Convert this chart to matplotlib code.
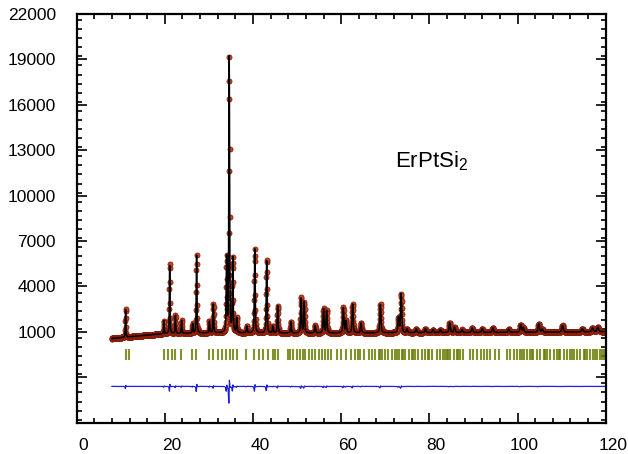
"""
ErPtSi2 - Rietveld refinement plot
(observed, calculated, Bragg positions, difference)
"""

import numpy as np
import matplotlib.pyplot as plt
from matplotlib.ticker import MultipleLocator, FixedLocator, FixedFormatter
import matplotlib.transforms as mtransforms

plt.rcParams['font.family'] = ['Liberation Sans', 'DejaVu Sans']
plt.rcParams['mathtext.fontset'] = 'custom'
plt.rcParams['mathtext.rm'] = 'Liberation Sans'
plt.rcParams['mathtext.default'] = 'regular'

# ====================
# data
# ====================
# reflections: 2theta position and peak height above background
peak_pos = [11.1, 19.8, 21.1, 22.4, 23.8, 26.3, 27.2, 30.1, 31.0, 34.0,
            34.6, 35.4, 36.3, 38.6, 40.4, 43.1, 44.5, 45.6, 48.6, 50.9,
            51.6, 54.1, 56.0, 56.7, 60.5, 61.1, 62.6, 64.5, 68.9, 73.0,
            73.6, 74.9, 77.0, 79.1, 80.8, 82.5, 84.6, 85.7, 87.4, 89.7,
            92.0, 94.4, 98.0, 100.7, 101.3, 104.8, 105.6, 110.2, 114.7, 117.0,
            118.2]
peak_height = [1950, 850, 4700, 1200, 850, 650, 5150, 800, 1900, 4900,
               18200, 4900, 1000, 450, 5550, 4900, 450, 1800, 750, 2350,
               2050, 500, 1600, 1500, 1700, 800, 1900, 650, 1900, 1000,
               2550, 250, 250, 250, 200, 200, 650, 350, 200, 300,
               250, 300, 200, 500, 300, 550, 200, 450, 200, 250,
               300]

# background knots
bg_tth = [8, 10, 15, 20, 30, 50, 80, 110, 120]
bg_val = [560, 620, 760, 880, 930, 920, 950, 980, 1020]

# Bragg reflection markers
bragg_pos = [11.2, 11.8,
             19.8, 20.7, 21.6, 22.4, 23.7, 26.1, 27.1, 30.1, 30.9, 32.0,
             33.0, 33.9, 34.8, 35.5, 36.3, 38.5, 40.3, 41.3, 42.3, 43.3,
             44.6, 45.0, 45.6, 47.9, 48.4, 49.1, 49.9, 50.6, 51.4, 51.9,
             52.6, 53.4, 54.1, 54.9, 55.7, 56.4, 57.0, 57.8, 59.1, 60.0,
             61.2, 62.3, 63.2, 63.7, 64.3, 65.1, 66.2, 67.0, 67.7, 68.5,
             68.8, 69.2, 70.0, 70.7, 71.5, 72.3, 72.6, 73.0, 73.7, 74.0,
             74.5, 75.3, 76.0, 76.3, 76.8, 77.5, 78.3, 79.0, 79.8, 80.0,
             80.5, 81.7, 82.4, 83.2, 83.5, 83.9, 84.3, 84.7, 85.5, 86.2,
             86.6, 87.0, 87.7, 89.2, 90.0, 90.8, 91.6, 92.3, 93.1, 93.8,
             95.0, 95.7, 97.6, 98.4, 99.1, 99.9, 100.6, 101.0, 101.4, 102.1,
             102.9, 103.3, 103.6, 104.4, 105.2, 105.9, 106.3, 106.7, 107.4, 108.2,
             108.9, 109.3, 109.7, 110.5, 111.2, 112.0, 112.4, 112.7, 113.5, 114.2,
             115.0, 115.4, 115.7, 116.5, 117.2, 117.6, 118.0, 118.7, 119.1, 119.5]

tth_start, tth_end, tth_step = 8.0, 120.0, 0.04
diff_offset = -2600
bragg_top, bragg_bottom = -100, -850

# ====================
# profiles
# ====================
tth = np.arange(tth_start, tth_end + tth_step / 2, tth_step)
background = np.interp(tth, bg_tth, bg_val)


def profile(x, shift=0.0, wscale=1.0):
    y = np.zeros_like(x)
    for p, h in zip(peak_pos, peak_height):
        w = (0.12 + 0.0025 * p) * wscale
        d = (x - p - shift) / w
        gauss = np.exp(-4 * np.log(2) * d ** 2)
        lorentz = 1.0 / (1.0 + 4 * d ** 2)
        y += h * (0.5 * gauss + 0.5 * lorentz)
    return y


y_calc = background + profile(tth)
y_obs = background + profile(tth, shift=0.006, wscale=0.96)
y_diff = y_obs - y_calc + diff_offset

# ====================
# figure
# ====================
fig = plt.figure(figsize=(6.28, 4.54), dpi=100)
ax = fig.add_axes([0.1221, 0.0689, 0.9645 - 0.1221, 0.9692 - 0.0689])

ax.plot(tth, y_obs, linestyle='none', marker='o', markersize=3.6,
        markerfacecolor='#c04a28', markeredgecolor='#8a1c08',
        markeredgewidth=0.6, zorder=2)
ax.plot(tth, y_calc, color='black', linewidth=1.1, zorder=3)
ax.vlines(bragg_pos, bragg_bottom, bragg_top, color='#6a8008',
          linewidth=1.5, alpha=0.85, zorder=2)
ax.plot(tth, y_diff, color='#1f1fe0', linewidth=0.9, zorder=2)

ax.text(72.1, 11870, r'ErPtSi$_2$', fontsize=16, ha='left', va='baseline')

ax.set_xlim(0, 120)
ax.set_ylim(-5000, 22000)

ax.xaxis.set_major_locator(MultipleLocator(20))
ax.xaxis.set_minor_locator(MultipleLocator(4))
y_major = list(range(-5000, 22001, 3000))
ax.yaxis.set_major_locator(FixedLocator(y_major))
ax.yaxis.set_major_formatter(FixedFormatter([str(v) if v >= 1000 else '' for v in y_major]))
ax.yaxis.set_minor_locator(MultipleLocator(600))

ax.tick_params(which='both', direction='in', top=True, right=True,
               width=1.2, labelsize=12.5)
ax.tick_params(which='major', length=7)
ax.tick_params(which='minor', length=3.5)
ax.tick_params(axis='x', which='major', pad=11)
ax.tick_params(axis='y', which='major', pad=15)
for s in ax.spines.values():
    s.set_linewidth(1.6)

# x labels sit slightly right of their ticks in the original
shift = mtransforms.ScaledTranslation(7 / 100, 0, fig.dpi_scale_trans)
for lab in ax.get_xticklabels():
    lab.set_transform(lab.get_transform() + shift)

fig.savefig('out.png', dpi=100, facecolor='white')
